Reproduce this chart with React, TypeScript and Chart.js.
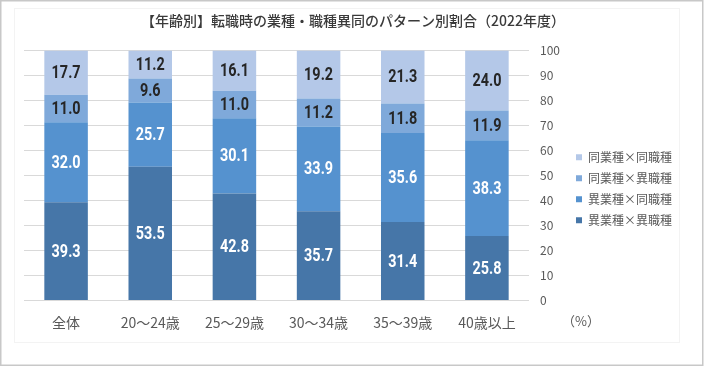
import React, { useEffect, useRef } from "react";
import { Chart, registerables } from "chart.js";

Chart.register(...registerables);

const titleText = "【年齢別】転職時の業種・職種異同のパターン別割合（2022年度）";
const categories = ["全体", "20～24歳", "25～29歳", "30～34歳", "35～39歳", "40歳以上"];
const seriesNames = ["異業種×異職種", "異業種×同職種", "同業種×異職種", "同業種×同職種"];
const diffIndDiffJob = [39.3, 53.5, 42.8, 35.7, 31.4, 25.8];
const diffIndSameJob = [32.0, 25.7, 30.1, 33.9, 35.6, 38.3];
const sameIndDiffJob = [11.0, 9.6, 11.0, 11.2, 11.8, 11.9];
const sameIndSameJob = [17.7, 11.2, 16.1, 19.2, 21.3, 24.0];
const unitLabel = "（%）";

const colors = ["#4676A8", "#5592CF", "#7FA9DA", "#B4C8E8"];
const labelColors = ["#ffffff", "#ffffff", "#262626", "#262626"];

const JP = "'Noto Sans CJK JP', 'Noto Sans', sans-serif";

const framePlugin = {
  id: "frame",
  beforeDraw(chart: any) {
    const ctx = chart.ctx;
    ctx.save();
    ctx.fillStyle = "#ffffff";
    ctx.fillRect(0, 0, chart.width, chart.height);
    ctx.strokeStyle = "#f3f3f3";
    ctx.lineWidth = 1;
    ctx.strokeRect(14.5, 8.5, 665, 334);
    ctx.strokeStyle = "#c8c8c8";
    ctx.lineWidth = 1.5;
    ctx.strokeRect(0.75, 0.75, 702, 364.5);
    ctx.restore();
  },
  afterDraw(chart: any) {
    const ctx = chart.ctx;
    ctx.save();
    ctx.font = "13px " + JP;
    ctx.fillStyle = "#595959";
    ctx.textAlign = "center";
    ctx.textBaseline = "middle";
    ctx.fillText(unitLabel, 581, 321);
    ctx.restore();
  },
};

const valueLabelPlugin = {
  id: "valueLabels",
  afterDatasetsDraw(chart: any) {
    const ctx = chart.ctx;
    const sx = 0.8;
    chart.data.datasets.forEach((ds: any, di: number) => {
      const meta = chart.getDatasetMeta(di);
      meta.data.forEach((el: any, i: number) => {
        const v = ds.data[i];
        ctx.save();
        ctx.font = "bold 18px Roboto, 'DejaVu Sans', sans-serif";
        ctx.textAlign = "center";
        ctx.textBaseline = "middle";
        ctx.fillStyle = labelColors[di];
        ctx.translate(el.x, (el.y + el.base) / 2 + 1);
        ctx.scale(sx, 1);
        ctx.fillText(v.toFixed(1), 0, 0);
        ctx.restore();
      });
    });
  },
};

export default function App() {
  const ref = useRef<HTMLCanvasElement>(null);
  useEffect(() => {
    document.body.style.margin = "0";
    const seriesData = [diffIndDiffJob, diffIndSameJob, sameIndDiffJob, sameIndSameJob];
    const chart = new Chart(ref.current as HTMLCanvasElement, {
      type: "bar",
      data: {
        labels: categories,
        datasets: seriesData.map((d, i) => ({
          label: seriesNames[i],
          data: d,
          backgroundColor: colors[i],
          borderWidth: 0,
          categoryPercentage: 1,
          barPercentage: 0.517,
        })),
      },
      options: {
        animation: false,
        responsive: false,
        layout: { padding: { left: 24, right: 22, top: 12, bottom: 1.4 } },
        plugins: {
          title: {
            display: true,
            text: titleText,
            color: "#3a3a3a",
            font: { family: JP, size: 14, weight: 500 },
            padding: { top: 0, bottom: 21.7 },
          },
          legend: {
            position: "right",
            reverse: true,
            labels: {
              boxWidth: 6,
              boxHeight: 6,
              padding: 9,
              color: "#595959",
              font: { family: JP, size: 12 },
            },
          },
          tooltip: { enabled: false },
        },
        scales: {
          x: {
            stacked: true,
            grid: { display: false },
            border: { display: false },
            ticks: { color: "#595959", font: { family: JP, size: 14 }, padding: 6 },
            afterFit(scale: any) {
              scale.height = 65.1;
            },
          },
          y: {
            stacked: true,
            position: "right",
            min: 0,
            max: 100,
            grid: { color: "#d9d9d9", drawTicks: false },
            border: { display: false },
            ticks: {
              stepSize: 10,
              color: "#595959",
              font: { family: JP, size: 12 },
              padding: 11,
            },
            afterFit(scale: any) {
              scale.width = 38;
            },
          },
        },
      },
      plugins: [framePlugin, valueLabelPlugin],
    } as any);
    return () => chart.destroy();
  }, []);
  return <canvas ref={ref} width={704} height={367} style={{ display: "block" }} />;
}
